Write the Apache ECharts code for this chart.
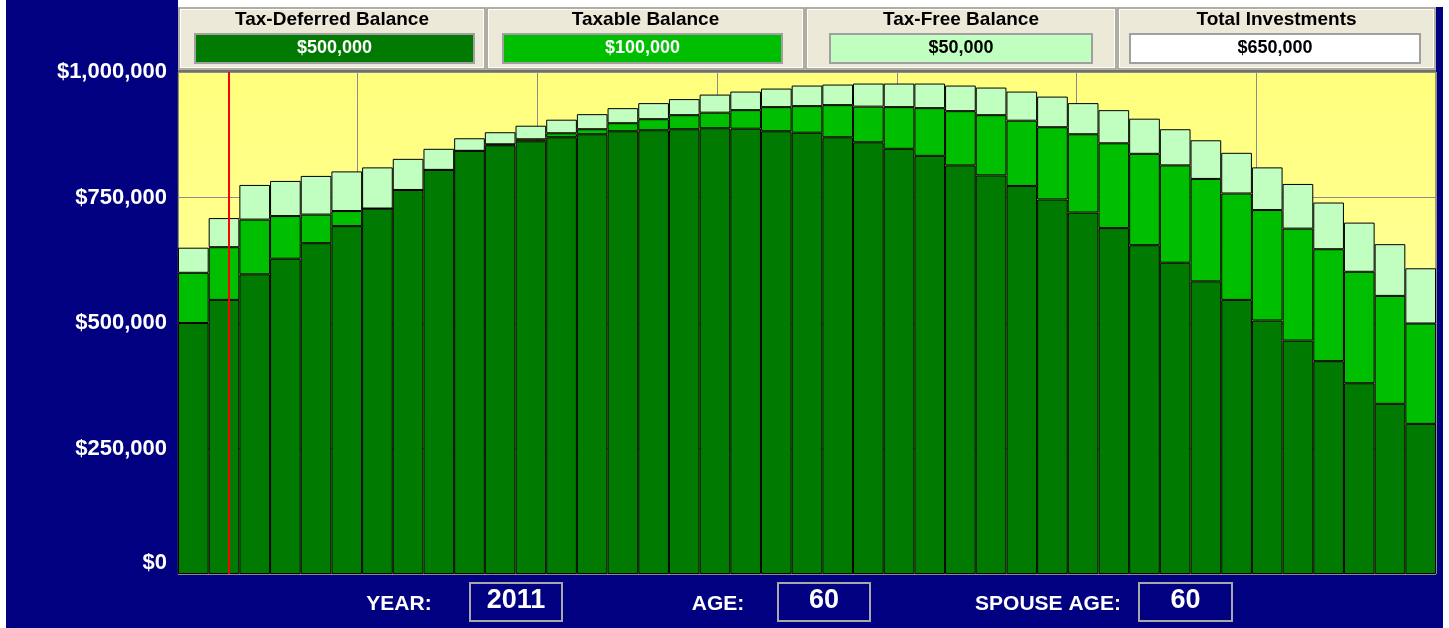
<!DOCTYPE html>
<html><head><meta charset="utf-8">
<script src="https://cdn.jsdelivr.net/npm/echarts@6/dist/echarts.min.js"></script>
<style>html,body{margin:0;padding:0;background:#fff;overflow:hidden}#c{width:1449px;height:628px}</style>
</head><body><div id="c"></div>
<script>
// ---- data ----
const years = ['2010','2011','2012','2013','2014','2015','2016','2017','2018','2019',
  '2020','2021','2022','2023','2024','2025','2026','2027','2028','2029',
  '2030','2031','2032','2033','2034','2035','2036','2037','2038','2039',
  '2040','2041','2042','2043','2044','2045','2046','2047','2048','2049','2050'];
const taxDeferred = [500000,546000,597000,628000,659000,693000,728000,765000,805000,843000,
  854000,862000,870000,876000,882000,884000,886000,888000,887000,882000,
  879000,870000,860000,847000,833000,814000,794000,773000,746000,720000,
  689000,655000,620000,583000,546000,505000,465000,424000,380000,339000,299000];
const taxable = [100000,105000,109000,85000,57000,30000,0,0,0,0,
  2000,4000,8000,10000,16000,22000,28000,31000,37000,48000,
  53000,64000,71000,83000,95000,108000,120000,130000,144000,156000,
  169000,182000,194000,204000,212000,220000,223000,223000,222000,215000,200000];
const taxFree = [50000,58000,69000,70000,77000,79000,82000,62000,42000,25000,
  24000,27000,27000,30000,30000,32000,32000,36000,37000,37000,
  41000,41000,46000,47000,49000,51000,55000,58000,61000,62000,
  66000,70000,72000,77000,81000,85000,89000,93000,98000,103000,110000];
const seriesNames = ['Tax-Deferred Balance','Taxable Balance','Tax-Free Balance','Total Investments'];
const yTicks = [0,250000,500000,750000,1000000];
const currentYear = '2011';
const age = '60';
const spouseAge = '60';
const markerPos = 1.66; // position of the red "now" line in year units from start

// ---- helpers ----
const fmt = v => '$' + v.toLocaleString('en-US');
const FONT = '"Liberation Sans", Arial, sans-serif';
const C_DARK = '#007A00', C_MID = '#00BE00', C_LIGHT = '#C0FFC0';

const legendVals = [taxDeferred[0], taxable[0], taxFree[0], taxDeferred[0] + taxable[0] + taxFree[0]];
const cells = [[178,486],[486,805],[805,1117],[1117,1436]];
const boxes = [[195,279,C_DARK,'#fff'],[503,279,C_MID,'#fff'],[830,262,C_LIGHT,'#000'],[1130,290,'#fff','#000']];

const graphic = [
  {type:'rect', shape:{x:0,y:0,width:6,height:628}, style:{fill:'#fff'}, z:100},
  {type:'rect', shape:{x:1443,y:0,width:6,height:628}, style:{fill:'#fff'}, z:100},
  {type:'rect', shape:{x:178,y:0,width:1265,height:7}, style:{fill:'#fff'}, z:100},
  {type:'rect', shape:{x:178,y:7,width:1258,height:63}, style:{fill:'#ECE9D8'}, z:100},
  {type:'rect', shape:{x:178,y:70,width:1258,height:2}, style:{fill:'#707070'}, z:100}
];
cells.forEach((c,i) => {
  graphic.push({type:'rect', shape:{x:c[0]+1,y:8,width:c[1]-c[0]-2,height:61}, style:{fill:'none', stroke:'#9C9A90', lineWidth:1.5}, z:101});
  graphic.push({type:'rect', shape:{x:c[0]+2.5,y:9.5,width:c[1]-c[0]-5,height:58}, style:{fill:'none', stroke:'#FFFFFF', lineWidth:1}, z:101});
  graphic.push({type:'text', x:(c[0]+c[1])/2, y:20, style:{text:seriesNames[i], font:'bold 19px '+FONT, fill:'#000', align:'center', verticalAlign:'middle'}, z:102});
  const b = boxes[i];
  graphic.push({type:'rect', shape:{x:b[0],y:34,width:b[1],height:29}, style:{fill:b[2], stroke:'#A0A0A0', lineWidth:2}, z:101});
  graphic.push({type:'text', x:b[0]+b[1]/2, y:48.5, style:{text:fmt(legendVals[i]), font:'bold 18px '+FONT, fill:b[3], align:'center', verticalAlign:'middle'}, z:102});
});
const bottom = [['YEAR:',399,[470,92],currentYear],['AGE:',718,[778,92],age],['SPOUSE AGE:',1048,[1139,93],spouseAge]];
bottom.forEach(b => {
  graphic.push({type:'text', x:b[1], y:604, style:{text:b[0], font:'bold 21px '+FONT, fill:'#fff', align:'center', verticalAlign:'middle'}, z:102});
  graphic.push({type:'rect', shape:{x:b[2][0],y:583,width:b[2][1],height:38}, style:{fill:'none', stroke:'#A8A8A8', lineWidth:2}, z:101});
  graphic.push({type:'text', x:b[2][0]+b[2][1]/2, y:601, style:{text:b[3], font:'bold 27px '+FONT, fill:'#fff', align:'center', verticalAlign:'middle'}, z:102});
});

const barBase = {type:'bar', stack:'total', xAxisIndex:0, yAxisIndex:0, barCategoryGap:'0%', animation:false};

const option = {
  backgroundColor:'#000080',
  animation:false,
  grid:{left:178, right:13, top:72, bottom:54, show:true,
    backgroundColor:{type:'linear',x:0,y:0,x2:0,y2:1,colorStops:[{offset:0,color:'#FFFF7C'},{offset:1,color:'#FFFFB4'}]},
    borderColor:'#404040', borderWidth:1},
  xAxis:[
    {type:'category', data:years, boundaryGap:true, axisLine:{show:false}, axisTick:{show:false}, axisLabel:{show:false}, splitLine:{show:false}},
    {type:'value', min:0, max:years.length, interval:years.length/7, position:'top', axisLine:{show:false}, axisTick:{show:false}, axisLabel:{show:false},
      splitLine:{show:true, lineStyle:{color:'#8C8C8C', width:1}}}
  ],
  yAxis:{type:'value', min:yTicks[0], max:yTicks[yTicks.length-1], interval:yTicks[1]-yTicks[0],
    axisLine:{show:false}, axisTick:{show:false},
    splitLine:{show:true, lineStyle:{color:'#8C8C8C', width:1}},
    axisLabel:{color:'#fff', fontFamily:FONT, fontWeight:'bold', fontSize:22, margin:11, formatter:fmt,
      verticalAlignMinLabel:'bottom'}},
  series:[
    Object.assign({}, barBase, {name:seriesNames[0], data:taxDeferred, itemStyle:{color:C_DARK, borderColor:'#000', borderWidth:1}}),
    Object.assign({}, barBase, {name:seriesNames[1], data:taxable, itemStyle:{color:C_MID, borderColor:'#000', borderWidth:1}}),
    Object.assign({}, barBase, {name:seriesNames[2], data:taxFree, itemStyle:{color:C_LIGHT, borderColor:'#000', borderWidth:1}}),
    {type:'line', xAxisIndex:1, yAxisIndex:0, data:[[markerPos,0]], showSymbol:false, symbolSize:0, lineStyle:{width:0}, silent:true, z:10,
      markLine:{symbol:'none', silent:true, animation:false, label:{show:false}, lineStyle:{color:'#FF0000', width:2, type:'solid'},
        data:[{xAxis:markerPos}]}}
  ],
  graphic: graphic
};
const chart = echarts.init(document.getElementById('c'), null, {renderer:'canvas'});
chart.setOption(option);
</script></body></html>
